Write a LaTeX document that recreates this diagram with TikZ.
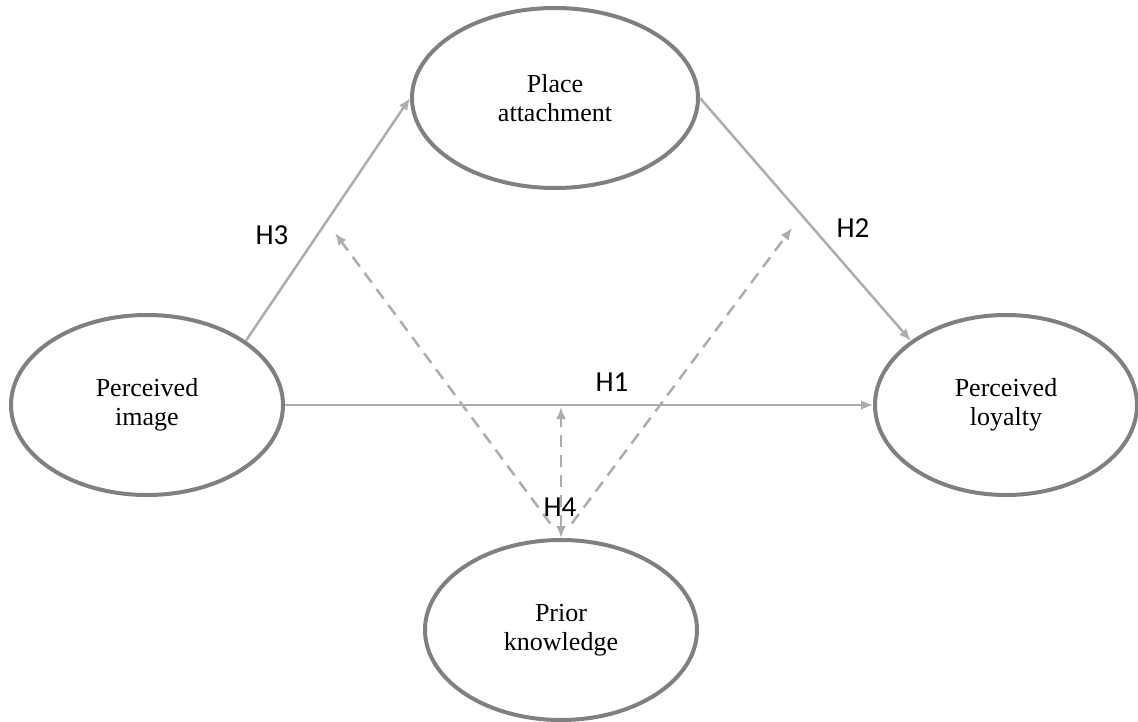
\documentclass[tikz,border=0pt]{standalone}
\usepackage{fontspec}
\newfontfamily\hfont{Carlito}
\newfontfamily\tfont{Liberation Serif}
\usetikzlibrary{shapes.geometric,arrows.meta}
\definecolor{ellgray}{HTML}{808080}
\definecolor{arrgray}{HTML}{ADADAD}
\begin{document}
\begin{tikzpicture}[x=1pt,y=-1pt,
  >={Latex[length=12pt,width=10pt]},
  construct/.style={ellipse, draw=ellgray, line width=4pt, inner sep=0pt, align=center,
    font=\tfont\fontsize{26}{29}\selectfont},
  link/.style={draw=arrgray, line width=2.5pt, ->},
  modlink/.style={draw=arrgray, line width=2.5pt, dash pattern=on 12pt off 8pt},
  hyp/.style={font=\hfont\fontsize{29}{32}\selectfont, inner sep=0pt}]
\useasboundingbox (0,0) rectangle (1138,722);
\node[construct, minimum width=286pt, minimum height=180pt] (place) at (555,98) {Place\\attachment};
\node[construct, minimum width=272pt, minimum height=180pt] (img) at (147,405) {Perceived\\image};
\node[construct, minimum width=262pt, minimum height=180pt] (loy) at (1006,405) {Perceived\\loyalty};
\node[construct, minimum width=272pt, minimum height=180pt] (pk) at (561,630) {Prior\\knowledge};

\draw[link] (img.33) -- (place.west);
\draw[link] (place.east) -- (loy.146);
\draw[link] (img.east) -- (loy.west);

\coordinate (hub) at (pk.north |- img.east);
\coordinate (mA) at (335,233);
\coordinate (mB) at (792,228);
\draw[modlink, ->, shorten <=18pt] (pk.north) -- (mA);
\draw[modlink, ->, shorten <=18pt] (pk.north) -- (mB);
\draw[modlink, <->, shorten >=2pt] (pk.north) -- (hub);

\node[hyp] (h1) at (612,382) {H1};
\node[hyp] (h2) at (853,228) {H2};
\node[hyp] (h3) at (272,235) {H3};
\node[hyp] (h4) at (560,507) {H4};
\end{tikzpicture}
\end{document}
